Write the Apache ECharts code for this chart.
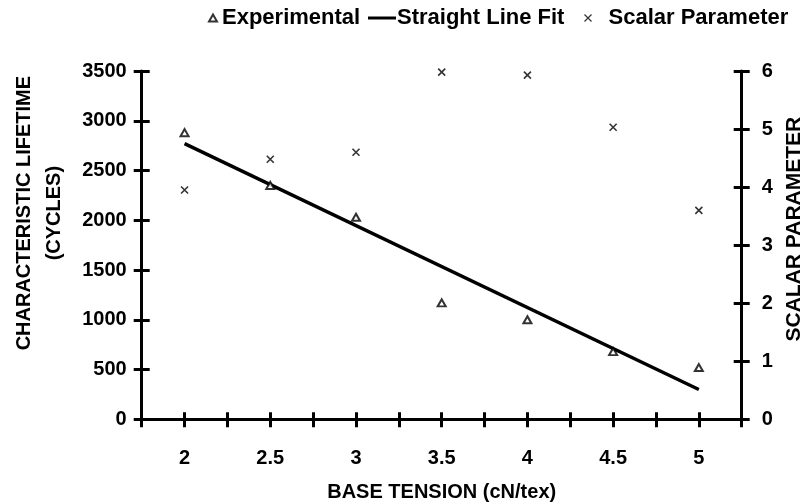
<!DOCTYPE html>
<html>
<head>
<meta charset="utf-8">
<script src="https://cdn.jsdelivr.net/npm/echarts@6/dist/echarts.min.js"></script>
<style>
  html, body { margin: 0; padding: 0; background: #fff; }
  #chart { width: 805px; height: 504px; }
</style>
</head>
<body>
<div id="chart"></div>
<script>
// Base tension (cN/tex) at which each yarn set was tested
const tension = [2, 2.5, 3, 3.5, 4, 4.5, 5];
// Characteristic lifetime in cycles (left axis)
const lifetime = [2880, 2350, 2030, 1170, 1000, 680, 520];
// Scalar (shape) parameter (right axis)
const scalar = [3.95, 4.48, 4.6, 5.98, 5.93, 5.03, 3.6];
// End points of the fitted straight line
const fitX = [2, 5];
const fitY = [2770, 300];

const FONT = '"Liberation Sans", Arial, Helvetica, sans-serif';
const INK = '#000';
const CROSS = 'path://M0,0L10,10M10,0L0,10';

const chart = echarts.init(document.getElementById('chart'), null, { renderer: 'canvas' });

// Only every second tick (0.5 steps, 2..5) carries a label
const halfLabel = v => {
  const r = Math.round(v * 100) / 100;
  if (Math.abs(r * 2 - Math.round(r * 2)) > 1e-6) return '';
  if (r < 2 || r > 5) return '';
  return String(r);
};
const plain = v => String(v);

const baseX = {
  type: 'value', min: 1.75, max: 5.25, interval: 0.25,
  splitLine: { show: false }
};
const baseLeft = {
  type: 'value', min: 0, max: 3500, interval: 500, position: 'left',
  splitLine: { show: false }
};
const baseRight = {
  type: 'value', min: 0, max: 6, interval: 1, position: 'right',
  splitLine: { show: false }
};
const lineStyle = { color: INK, width: 3 };
const tickStyle = { color: INK, width: 3 };
const labelStyle = { color: INK, fontFamily: FONT, fontWeight: 'bold', fontSize: 20 };
const legendText = { color: INK, fontFamily: FONT, fontWeight: 'bold', fontSize: 22 };

// One legend block per entry so each key can have its own symbol size
const legendBlock = (left, name, w, h, icon, itemStyle, textPad) => ({
  top: 7, left, padding: 0, itemWidth: w, itemHeight: h,
  textStyle: Object.assign({}, legendText, { padding: [0, 0, 0, textPad] }),
  data: [{ name, icon, itemStyle }]
});

chart.setOption({
  backgroundColor: '#fff',
  animation: false,
  textStyle: { fontFamily: FONT, color: INK },
  grid: {
    left: 141.7, right: 63.3, top: 71, bottom: 84.7,
    containLabel: false, outerBoundsMode: 'none'
  },
  legend: [
    legendBlock(208, 'Experimental', 8, 7, 'emptyTriangle',
      { color: INK, borderColor: INK, borderWidth: 1.2 }, 0),
    legendBlock(368, 'Straight Line Fit', 28, 3, 'rect',
      { color: INK, borderWidth: 0 }, -4),
    legendBlock(582, 'Scalar Parameter', 7, 7, CROSS,
      { color: 'none', borderColor: INK, borderWidth: 1.2 }, 12)
  ],
  xAxis: [
    Object.assign({}, baseX, {
      name: 'BASE TENSION (cN/tex)', nameLocation: 'middle', nameGap: 63,
      nameTextStyle: labelStyle,
      axisLine: { show: true, onZero: false, lineStyle },
      axisTick: { show: true, length: 8, lineStyle: tickStyle },
      axisLabel: Object.assign({}, labelStyle, { margin: 29, formatter: halfLabel, showMinLabel: true, showMaxLabel: true })
    }),
    Object.assign({}, baseX, {
      position: 'bottom',
      axisLine: { show: false },
      axisTick: { show: true, inside: true, length: 7, lineStyle: tickStyle },
      axisLabel: { show: false }
    })
  ],
  yAxis: [
    Object.assign({}, baseLeft, {
      name: 'CHARACTERISTIC LIFETIME\n(CYCLES)', nameLocation: 'middle', nameRotate: 90, nameGap: 72,
      nameTextStyle: Object.assign({}, labelStyle, { lineHeight: 30, align: 'center', padding: [0, 0, 0, 64] }),
      axisLine: { show: true, onZero: false, lineStyle },
      axisTick: { show: true, length: 8, lineStyle: tickStyle },
      axisLabel: Object.assign({}, labelStyle, { margin: 15, formatter: plain })
    }),
    Object.assign({}, baseRight, {
      name: 'SCALAR PARAMETER', nameLocation: 'middle', nameRotate: 90, nameGap: 6,
      nameTextStyle: Object.assign({}, labelStyle, { fontSize: 21, padding: [0, 0, 0, 32] }),
      axisLine: { show: true, onZero: false, lineStyle },
      axisTick: { show: true, length: 8, lineStyle: tickStyle },
      axisLabel: Object.assign({}, labelStyle, { margin: 20, formatter: plain })
    }),
    Object.assign({}, baseLeft, {
      axisLine: { show: false },
      axisTick: { show: true, inside: true, length: 8, lineStyle: tickStyle },
      axisLabel: { show: false }
    }),
    Object.assign({}, baseRight, {
      axisLine: { show: false },
      axisTick: { show: true, inside: true, length: 8, lineStyle: tickStyle },
      axisLabel: { show: false }
    })
  ],
  series: [
    {
      name: 'Experimental', type: 'scatter', xAxisIndex: 0, yAxisIndex: 0,
      symbol: 'emptyTriangle', symbolSize: [8, 7],
      itemStyle: { color: INK, borderColor: INK, borderWidth: 1.4 },
      data: tension.map((x, i) => [x, lifetime[i]]),
      z: 4
    },
    {
      name: 'Straight Line Fit', type: 'line', xAxisIndex: 0, yAxisIndex: 0,
      showSymbol: false, symbol: 'none',
      lineStyle: { color: INK, width: 3.4 },
      itemStyle: { color: INK },
      data: fitX.map((x, i) => [x, fitY[i]]),
      z: 3
    },
    {
      name: 'Scalar Parameter', type: 'scatter', xAxisIndex: 0, yAxisIndex: 1,
      symbol: CROSS, symbolSize: 7,
      itemStyle: { color: 'none', borderColor: INK, borderWidth: 1.6 },
      data: tension.map((x, i) => [x, scalar[i]]),
      z: 4
    }
  ]
});
</script>
</body>
</html>
